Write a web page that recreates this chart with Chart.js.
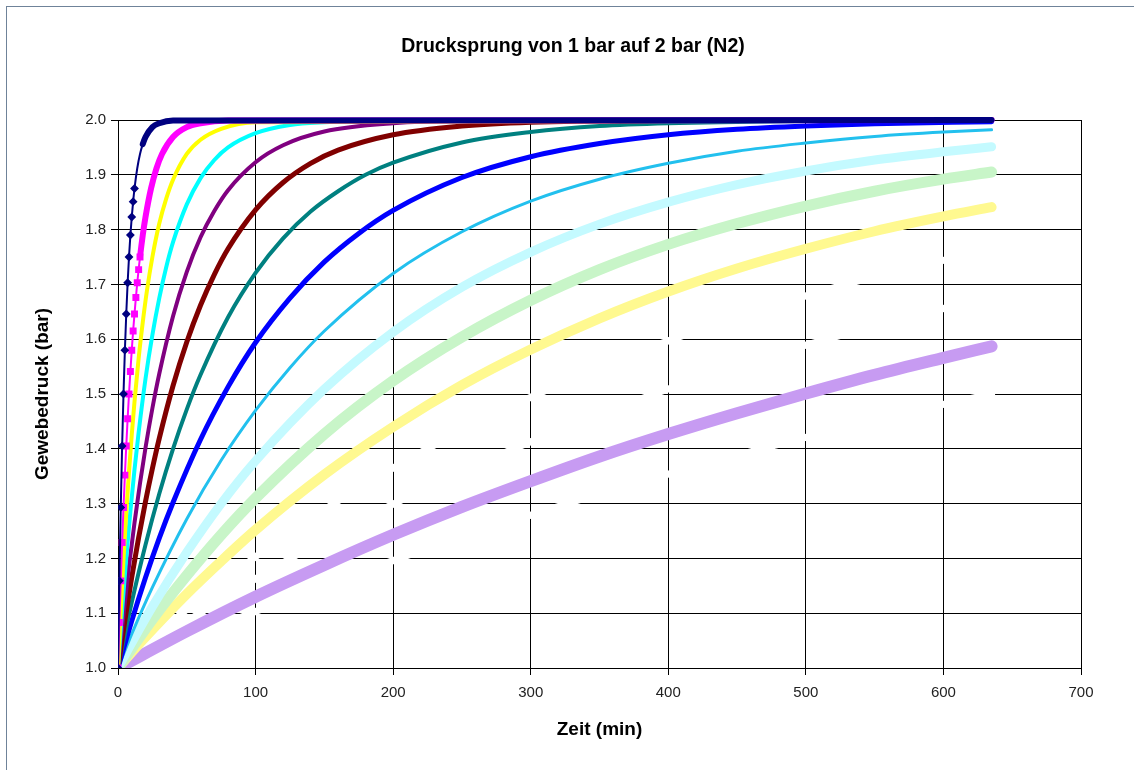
<!DOCTYPE html>
<html><head><meta charset="utf-8">
<script src="https://cdn.jsdelivr.net/npm/chart.js@4.4.1/dist/chart.umd.min.js"></script>
<style>
html,body{margin:0;padding:0;background:#fff;overflow:hidden;}
#wrap{position:relative;width:1134px;height:770px;overflow:hidden;}
#frame{position:absolute;left:6px;top:6px;width:1200px;height:800px;border:1px solid #6f8399;pointer-events:none;}
canvas{position:absolute;left:0;top:0;}
</style></head>
<body><div id="wrap"><canvas id="c" width="1134" height="770"></canvas><div id="frame"></div></div>
<script>
// ---- tick labels ----
const xTickValues = [0,100,200,300,400,500,600,700];
const yTickLabels = ['1.0','1.1','1.2','1.3','1.4','1.5','1.6','1.7','1.8','1.9','2.0'];

// ---- series (time in min, tissue pressure in bar) ----
const tNavy = [0,1,2,3,4,5,6,7,8,9,10,11,12,14,16,18,20,25,30,40,635];
const pNavy = [1.000,1.159,1.293,1.405,1.500,1.580,1.646,1.703,1.750,1.790,1.823,1.851,1.875,1.912,1.938,1.956,1.969,1.987,1.994,1.999,2.000];

const tMagenta = [0,1,2,3,4,5,6,7,8,9,10,11,12,13,14,15,16,18,20,24,28,32,40,50,60,80,635];
const pMagenta = [1.000,1.083,1.159,1.229,1.293,1.352,1.405,1.455,1.500,1.541,1.580,1.615,1.646,1.676,1.703,1.727,1.750,1.790,1.823,1.875,1.912,1.938,1.969,1.987,1.994,1.999,2.000];

const tYellow = [0,2,4,6,8,10,12,15,18,21,25,30,35,40,50,60,75,100,635];
const pYellow = [1.000,1.105,1.199,1.283,1.358,1.426,1.486,1.565,1.631,1.688,1.750,1.811,1.856,1.891,1.938,1.964,1.984,1.996,2.000];

const tCyan = [0,3,6,9,12,15,20,25,30,35,40,50,60,70,80,100,125,150,200,635];
const pCyan = [1.000,1.106,1.201,1.286,1.362,1.430,1.528,1.608,1.675,1.731,1.777,1.846,1.894,1.927,1.950,1.976,1.991,1.996,1.999,2.000];

const tPurple = [0,4,8,12,16,20,25,30,40,50,60,70,80,100,120,150,200,250,635];
const pPurple = [1.000,1.098,1.186,1.265,1.337,1.402,1.474,1.537,1.642,1.723,1.786,1.834,1.872,1.923,1.954,1.979,1.994,1.998,2.000];

const tMaroon = [0,5,10,15,20,25,30,40,50,60,70,80,100,120,140,160,200,250,300,400,635];
const pMaroon = [1.000,1.087,1.166,1.238,1.304,1.364,1.419,1.515,1.595,1.662,1.718,1.765,1.836,1.886,1.921,1.945,1.973,1.989,1.996,1.999,2.000];

const tTeal = [0,5,10,20,30,40,50,60,80,100,120,140,160,180,200,250,300,350,400,500,635];
const pTeal = [1.000,1.062,1.120,1.225,1.318,1.400,1.472,1.535,1.640,1.721,1.784,1.833,1.870,1.900,1.922,1.959,1.978,1.989,1.994,1.998,2.000];

const tBlue = [0,10,20,30,40,60,80,100,125,150,175,200,250,300,350,400,450,500,550,635];
const pBlue = [1.000,1.086,1.165,1.237,1.302,1.417,1.513,1.594,1.675,1.741,1.793,1.835,1.895,1.933,1.957,1.973,1.983,1.989,1.993,1.997];

const tSky = [0,10,25,50,75,100,125,150,200,250,300,350,400,450,500,550,600,635];
const pSky = [1.000,1.062,1.147,1.272,1.379,1.470,1.548,1.615,1.720,1.796,1.852,1.892,1.921,1.943,1.958,1.970,1.978,1.982];

const tSlow = [0,10,25,50,75,100,150,200,250,300,350,400,450,500,550,600,635];
const pLightCyan   = [1.000,1.046,1.112,1.211,1.300,1.378,1.509,1.613,1.695,1.759,1.810,1.850,1.882,1.907,1.927,1.942,1.951];
const pLightGreen  = [1.000,1.036,1.089,1.169,1.243,1.310,1.427,1.524,1.604,1.671,1.727,1.773,1.811,1.843,1.870,1.892,1.905];
const pLightYellow = [1.000,1.029,1.070,1.135,1.195,1.252,1.353,1.440,1.516,1.581,1.638,1.687,1.729,1.765,1.797,1.824,1.841];

const tWide = [0,50,100,150,200,250,300,350,400,450,500,550,600,635];
const pLavender = [1.000,1.067,1.130,1.188,1.243,1.294,1.341,1.386,1.427,1.465,1.501,1.535,1.566,1.587];
const pWhiteA   = [1.000,1.107,1.203,1.289,1.365,1.433,1.494,1.549,1.597,1.640,1.679,1.714,1.744,1.764];
const pWhiteB   = [1.000,1.085,1.163,1.234,1.299,1.359,1.413,1.463,1.509,1.551,1.589,1.624,1.656,1.676];
const pWhiteC   = [1.000,1.053,1.103,1.151,1.196,1.239,1.279,1.318,1.354,1.388,1.421,1.451,1.481,1.500];

// ---- build ----
const FONT = "'Liberation Sans', Arial, sans-serif";
function pts(ts, ps){ return ts.map((t,i)=>({x:t, y:ps[i]})); }
function series(label, ts, ps, color, width, extra){
  return Object.assign({
    label, data: pts(ts, ps), borderColor: color, backgroundColor: color,
    borderWidth: width, pointRadius: 0, pointHoverRadius: 0,
    cubicInterpolationMode: 'monotone', borderCapStyle: 'round', borderJoinStyle: 'round', fill: false,
    clip: { left: 0, top: 8, right: 8, bottom: 0 }
  }, extra || {});
}

const datasets = [
  series('4 min', tNavy, pNavy, '#000080', 2, {
    pointStyle: 'rectRot', pointRadius: c => (c.parsed && c.parsed.x <= 12 ? 3 : 0),
    segment: { borderWidth: c => (c.p0.parsed.y > 1.95 ? 6 : 2) }
  }),
  series('8 min', tMagenta, pMagenta, '#FF00FF', 2, {
    pointStyle: 'rect', pointRadius: c => (c.parsed && c.parsed.x <= 16 ? 3.5 : 0),
    segment: { borderWidth: c => (c.p0.parsed.y > 1.74 ? 6 : 2) }
  }),
  series('12.5 min', tYellow, pYellow, '#FFFF00', 4),
  series('18.5 min', tCyan, pCyan, '#00FFFF', 4),
  series('27 min', tPurple, pPurple, '#800080', 4),
  series('38.3 min', tMaroon, pMaroon, '#800000', 5),
  series('54.3 min', tTeal, pTeal, '#008080', 4),
  series('77 min', tBlue, pBlue, '#0000FF', 5),
  series('109 min', tSky, pSky, '#22C0EE', 3),
  series('146 min', tSlow, pLightCyan, '#C4FAFF', 9),
  series('187 min', tSlow, pLightGreen, '#C8F5C8', 11),
  series('239 min', tSlow, pLightYellow, '#FFF990', 10),
  series('498 min', tWide, pLavender, '#C79BF2', 12),
  series('305 min', tWide, pWhiteA, '#FFFFFF', 7),
  series('390 min', tWide, pWhiteB, '#FFFFFF', 7),
  series('635 min', tWide, pWhiteC, '#FFFFFF', 7)
];

new Chart(document.getElementById('c'), {
  type: 'line',
  data: { datasets },
  options: {
    responsive: false, animation: false, devicePixelRatio: 1,
    layout: { padding: { left: 12, right: 0, top: 0, bottom: 0 } },
    plugins: {
      legend: { display: false },
      tooltip: { enabled: false },
      title: {
        display: true, text: 'Drucksprung von 1 bar auf 2 bar (N2)', color: '#000',
        font: { family: FONT, size: 19.5, weight: 'bold' },
        padding: { top: 35.3, bottom: 61.3 }
      }
    },
    scales: {
      x: {
        type: 'linear', min: 0, max: 700,
        afterBuildTicks: s => { s.ticks = xTickValues.map(v => ({ value: v })); },
        ticks: { font: { family: FONT, size: 15 }, color: '#222', padding: 8.5, maxRotation: 0, autoSkip: false,
                 callback: v => String(v) },
        grid: { color: '#000', lineWidth: 1, tickLength: 7 },
        border: { color: '#000', width: 1 },
        title: { display: true, text: 'Zeit (min)', color: '#000', font: { family: FONT, size: 19, weight: 'bold' },
                 padding: { top: 0, bottom: 29 } },
        afterFit: s => { s.height = 102; }
      },
      y: {
        type: 'linear', min: 1.0, max: 2.0,
        afterBuildTicks: s => { s.ticks = yTickLabels.map(l => ({ value: parseFloat(l) })); },
        ticks: { font: { family: FONT, size: 15 }, color: '#222', padding: 5, autoSkip: false,
                 callback: (v, i) => yTickLabels[i] },
        grid: { color: '#000', lineWidth: 1, tickLength: 7 },
        border: { color: '#000', width: 1 },
        title: { display: true, text: 'Gewebedruck (bar)', color: '#000', font: { family: FONT, size: 19, weight: 'bold' },
                 padding: { top: 19.1, bottom: 0 } },
        afterFit: s => { s.width = 106; }
      },
      yR: {
        position: 'right', display: true,
        grid: { display: false, drawTicks: false }, ticks: { display: false }, border: { display: false },
        afterFit: s => { s.width = 53; }
      }
    }
  }
});
</script>
</body></html>
